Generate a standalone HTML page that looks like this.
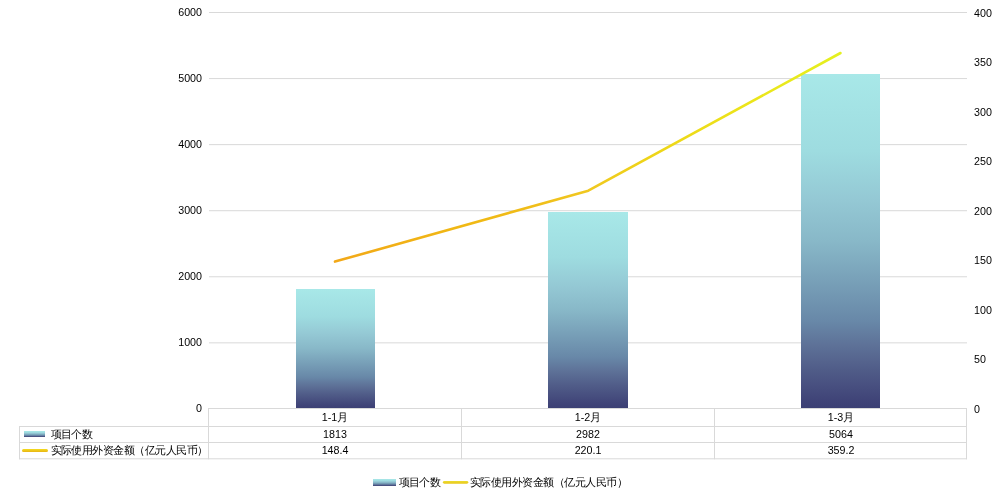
<!DOCTYPE html>
<html><head><meta charset="utf-8">
<style>
html,body{margin:0;padding:0;background:#fff;}
body{width:1000px;height:500px;overflow:hidden;position:relative;font-family:"Liberation Sans",sans-serif;}
svg{position:absolute;left:0;top:0;will-change:transform;}
text{font-family:"Liberation Sans",sans-serif;font-size:10.7px;fill:#000;}
.cj{font-size:11.2px;font-weight:350;}
</style></head><body>
<svg width="1000" height="500" viewBox="0 0 1000 500">
<defs>
<linearGradient id="bg" x1="0" y1="0" x2="0" y2="1">
<stop offset="0" stop-color="#a8e8e8"/>
<stop offset="0.23" stop-color="#9edce0"/>
<stop offset="0.38" stop-color="#94c8d4"/>
<stop offset="0.5" stop-color="#88b8c8"/>
<stop offset="0.62" stop-color="#78a0b8"/>
<stop offset="0.74" stop-color="#6888a8"/>
<stop offset="0.81" stop-color="#5e7298"/>
<stop offset="0.886" stop-color="#505c88"/>
<stop offset="0.976" stop-color="#404478"/>
<stop offset="1" stop-color="#3c4074"/>
</linearGradient>
<linearGradient id="lg" gradientUnits="userSpaceOnUse" x1="335" y1="0" x2="841" y2="0">
<stop offset="0" stop-color="#f2a818"/>
<stop offset="0.25" stop-color="#f0b814"/>
<stop offset="0.375" stop-color="#f0bc18"/>
<stop offset="0.5" stop-color="#f0c820"/>
<stop offset="0.62" stop-color="#eed418"/>
<stop offset="0.81" stop-color="#ece41a"/>
<stop offset="0.97" stop-color="#e6ee1e"/>
<stop offset="1" stop-color="#e4f020"/>
</linearGradient>
<linearGradient id="lgl" gradientUnits="userSpaceOnUse" x1="0" y1="449" x2="0" y2="452">
<stop offset="0" stop-color="#f4dc20"/>
<stop offset="1" stop-color="#e8b414"/>
</linearGradient>
<linearGradient id="lgl2" gradientUnits="userSpaceOnUse" x1="0" y1="481" x2="0" y2="484">
<stop offset="0" stop-color="#ecdc30"/>
<stop offset="1" stop-color="#e8c418"/>
</linearGradient>
</defs>
<!-- gridlines -->
<g stroke="#d9d9d9" stroke-width="1">
<line x1="209" y1="12.5" x2="967" y2="12.5"/>
<line x1="209" y1="78.57" x2="967" y2="78.57"/>
<line x1="209" y1="144.64" x2="967" y2="144.64"/>
<line x1="209" y1="210.71" x2="967" y2="210.71"/>
<line x1="209" y1="276.78" x2="967" y2="276.78"/>
<line x1="209" y1="342.85" x2="967" y2="342.85"/>
</g>
<!-- left axis -->
<g text-anchor="end">
<text x="202" y="16.20">6000</text>
<text x="202" y="82.13">5000</text>
<text x="202" y="148.06">4000</text>
<text x="202" y="213.99">3000</text>
<text x="202" y="279.92">2000</text>
<text x="202" y="345.85">1000</text>
<text x="202" y="411.78">0</text>
</g>
<!-- right axis -->
<g text-anchor="start">
<text x="974" y="16.5">400</text>
<text x="974" y="66">350</text>
<text x="974" y="115.5">300</text>
<text x="974" y="165">250</text>
<text x="974" y="214.5">200</text>
<text x="974" y="264">150</text>
<text x="974" y="313.5">100</text>
<text x="974" y="363">50</text>
<text x="974" y="412.5">0</text>
</g>
<!-- bars -->
<rect x="296" y="289" width="79" height="119" fill="url(#bg)"/>
<rect x="548" y="212" width="80" height="196" fill="url(#bg)"/>
<rect x="801" y="74" width="79" height="334" fill="url(#bg)"/>
<!-- line -->
<polyline points="335,261.6 588.3,190.7 840.5,53" fill="none" stroke="url(#lg)" stroke-width="2.6" stroke-linecap="round" stroke-linejoin="round"/>
<!-- table -->
<g stroke="#d9d9d9" stroke-width="1" fill="none">
<line x1="208.5" y1="408" x2="208.5" y2="459.3"/>
<line x1="461.5" y1="408" x2="461.5" y2="459.3"/>
<line x1="714.5" y1="408" x2="714.5" y2="459.3"/>
<line x1="966.5" y1="408" x2="966.5" y2="459.3"/>
<line x1="208" y1="408.5" x2="967" y2="408.5"/>
<line x1="19" y1="426.5" x2="967" y2="426.5"/>
<line x1="19" y1="442.5" x2="967" y2="442.5"/>
<line x1="19" y1="458.8" x2="967" y2="458.8"/>
<line x1="19.5" y1="426" x2="19.5" y2="459.3"/>
</g>
<g text-anchor="middle">
<text x="335" y="421">1-1月</text>
<text x="588" y="421">1-2月</text>
<text x="841" y="421">1-3月</text>
<text x="335" y="438">1813</text>
<text x="588" y="438">2982</text>
<text x="841" y="438">5064</text>
<text x="335" y="454">148.4</text>
<text x="588" y="454">220.1</text>
<text x="841" y="454">359.2</text>
</g>
<rect x="24" y="431" width="21" height="6" fill="url(#bg)"/>
<line x1="23.5" y1="450.5" x2="46.5" y2="450.5" stroke="url(#lgl)" stroke-width="3" stroke-linecap="round"/>
<text class="cj" x="50.5" y="438" textLength="42" lengthAdjust="spacing">项目个数</text>
<text class="cj" x="50.5" y="454" textLength="157.5" lengthAdjust="spacing">实际使用外资金额（亿元人民币）</text>
<!-- legend -->
<rect x="373" y="479" width="23" height="7" fill="url(#bg)"/>
<line x1="444.3" y1="482.3" x2="466.9" y2="482.3" stroke="url(#lgl2)" stroke-width="2.8" stroke-linecap="round"/>
<text class="cj" x="398.5" y="485.8" textLength="42" lengthAdjust="spacing">项目个数</text>
<text class="cj" x="470" y="485.8" textLength="157.5" lengthAdjust="spacing">实际使用外资金额（亿元人民币）</text>
</svg>
</body></html>
